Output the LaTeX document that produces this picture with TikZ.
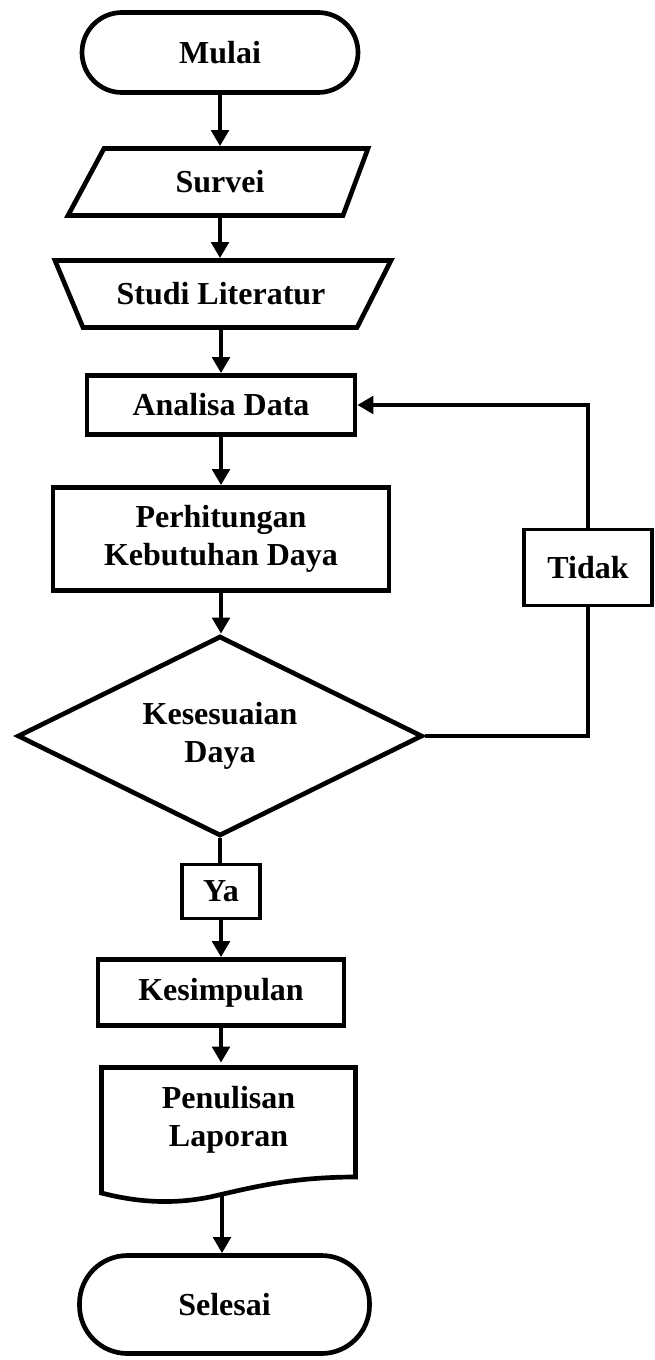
\documentclass[tikz,border=0pt]{standalone}
\usepackage{fontspec}
\setmainfont{Liberation Serif}
\usetikzlibrary{shapes.geometric,arrows.meta,calc}
\begin{document}
\begin{tikzpicture}[x=0.75pt,y=-0.75pt,
  lbl/.style={font=\fontsize{24}{28.5}\selectfont\bfseries, align=center, inner sep=0pt},
  procbox/.style={lbl, draw, rectangle, line width=3.5pt},
  termbox/.style={lbl, draw, rectangle, line width=3.5pt},
  labelbox/.style={lbl, draw, rectangle, line width=2.5pt},
  holder/.style={lbl, outer sep=1.75pt},
  outline/.style={draw, line width=3.5pt, line join=miter},
  flow/.style={line width=3.2pt, -{Triangle[length=12pt,width=13pt]}},
  plainline/.style={line width=3.2pt}
]
\useasboundingbox (0,0) rectangle (655,1360);

% Start
\node[termbox, minimum width=207pt, minimum height=60pt, rounded corners=30pt] (mulai) at (220,52.5) {Mulai};

% Survei (parallelogram)
\node[holder, minimum width=190pt, minimum height=50.25pt] (survei) at (220,182) {Survei};
\draw[outline] (104,148.5) -- (368,148.5) -- (343,215.5) -- (68,215.5) -- cycle;

% Studi Literatur (trapezium)
\node[holder, minimum width=190pt, minimum height=50.25pt] (studi) at (221,294) {Studi Literatur};
\draw[outline] (55,260.5) -- (391,260.5) -- (357,327.5) -- (83,327.5) -- cycle;

% Analisa Data
\node[procbox, minimum width=201pt, minimum height=44.25pt] (analisa) at (221,405) {Analisa Data};

% Perhitungan
\node[procbox, minimum width=252pt, minimum height=77.25pt] (perhitungan) at (221,539) {Perhitungan\\Kebutuhan Daya};

% Decision
\node[lbl, draw, diamond, aspect=2, line width=3.5pt, minimum width=303.75pt, minimum height=150pt] (kesesuaian) at (220,736) {Kesesuaian\\Daya};

% Tidak
\node[labelbox, minimum width=96pt, minimum height=57pt] (tidak) at (588,567.5) {Tidak};

% Ya
\node[labelbox, minimum width=58.5pt, minimum height=40.5pt] (ya) at (221,891.5) {Ya};

% Kesimpulan
\node[procbox, minimum width=184.5pt, minimum height=49.5pt] (kesimpulan) at (221,992.5) {Kesimpulan};

% Penulisan Laporan (document)
\node[holder, minimum width=190.5pt, minimum height=82.5pt] (laporan) at (228.5,1120) {Penulisan\\Laporan};
\draw[outline] (101.5,1067.5) -- (355.5,1067.5) -- (355.5,1177)
  .. controls (290,1177) and (250,1188) .. (210,1197)
  .. controls (175,1204) and (140,1203) .. (101.5,1193) -- cycle;
\coordinate (docb) at (222,1196);

% End
\node[termbox, minimum width=217.5pt, minimum height=73.5pt, rounded corners=36pt] (selesai) at (224.5,1304.5) {Selesai};

% Connectors
\draw[flow] (mulai.south) -- (mulai.south |- survei.north);
\draw[flow] (survei.south) -- (survei.south |- studi.north);
\draw[flow] (studi.south) -- (studi.south |- analisa.north);
\draw[flow] (analisa.south) -- (perhitungan.north);
\draw[flow] (perhitungan.south) -- (perhitungan.south |- kesesuaian.north);
\draw[plainline] (kesesuaian.south) -- (kesesuaian.south |- ya.north);
\draw[flow] (ya.south) -- (kesimpulan.north);
\draw[flow] (kesimpulan.south) -- (kesimpulan.south |- laporan.north);
\draw[flow] (docb) -- (docb |- selesai.north);
\draw[plainline] (kesesuaian.east) -| (tidak.south);
\draw[flow] (tidak.north) |- (analisa.east);
\end{tikzpicture}
\end{document}
